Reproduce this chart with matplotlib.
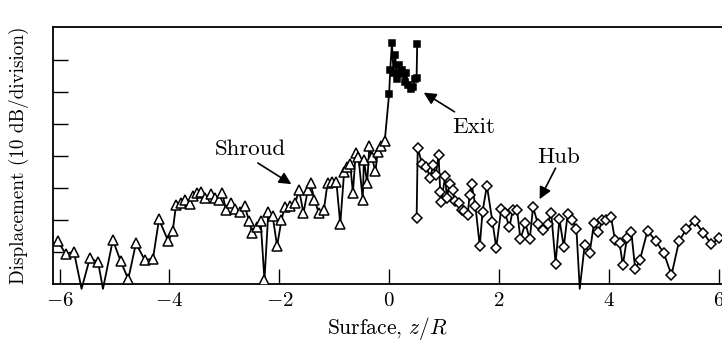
import numpy as np
import matplotlib
matplotlib.use('Agg')
import matplotlib.pyplot as plt

### Datos ###
# Shroud (triangulos)
shroud_z = [-6.03, -5.89, -5.74, -5.60, -5.45, -5.30, -5.21, -5.03, -4.89, -4.75,
            -4.61, -4.45, -4.30, -4.19, -4.02, -3.94, -3.88, -3.79, -3.71, -3.62,
            -3.57, -3.49, -3.42, -3.35, -3.25, -3.17, -3.09, -3.04, -2.97, -2.885,
            -2.81, -2.72, -2.63, -2.55, -2.49, -2.41, -2.34, -2.27, -2.20, -2.12,
            -2.04, -1.96, -1.90, -1.81, -1.71, -1.64, -1.56, -1.48, -1.43, -1.36,
            -1.28, -1.19, -1.12, -1.04, -0.96, -0.89, -0.82, -0.76, -0.71, -0.66,
            -0.61, -0.56, -0.48, -0.46, -0.40, -0.36, -0.32, -0.25, -0.21, -0.15,
            -0.08]
shroud_y = [1.34, 0.94, 1.01, -0.15, 0.80, 0.69, -0.15, 1.375, 0.72, 0.15,
            1.27, 0.75, 0.79, 2.02, 1.33, 1.66, 2.47, 2.52, 2.64, 2.49,
            2.76, 2.83, 2.88, 2.70, 2.82, 2.70, 2.61, 2.85, 2.31, 2.54,
            2.35, 2.24, 2.44, 1.96, 1.59, 1.79, 1.97, 0.12, 2.25, 2.11,
            1.19, 2.00, 2.42, 2.44, 2.53, 2.94, 2.22, 2.94, 3.15, 2.63,
            2.22, 2.30, 3.17, 3.20, 3.18, 1.87, 3.49, 3.66, 3.76, 2.85,
            4.08, 3.98, 2.63, 3.88, 3.15, 4.30, 3.98, 3.53, 4.11, 4.30,
            4.47]

# Exit (cuadrados)
exit_z = [0.00, 0.02, 0.05, 0.08, 0.11, 0.14, 0.18, 0.21, 0.24, 0.28,
          0.31, 0.35, 0.39, 0.43, 0.47, 0.50, 0.51]
exit_y = [5.95, 6.70, 7.52, 6.60, 7.15, 6.40, 6.85, 6.55, 6.70, 6.30,
          6.58, 6.22, 6.10, 6.15, 6.40, 6.45, 7.50]

# Hub (rombos)
hub_z = [0.50, 0.52, 0.60, 0.68, 0.75, 0.80, 0.85, 0.90, 0.93, 0.95,
         1.02, 1.05, 1.10, 1.16, 1.19, 1.27, 1.33, 1.37, 1.43, 1.465,
         1.50, 1.57, 1.65, 1.70, 1.78, 1.88, 1.95, 2.04, 2.11, 2.19,
         2.25, 2.33, 2.39, 2.48, 2.56, 2.62, 2.71, 2.80, 2.885, 2.95,
         3.03, 3.10, 3.18, 3.25, 3.33, 3.41, 3.47, 3.56, 3.65, 3.73,
         3.81, 3.88, 3.95, 4.04, 4.11, 4.195, 4.255, 4.33, 4.41, 4.48,
         4.565, 4.705, 4.85, 5.00, 5.14, 5.28, 5.41, 5.56, 5.72, 5.865,
         6.01]
hub_y = [2.07, 4.26, 3.74, 3.65, 3.30, 3.72, 3.41, 4.03, 2.88, 2.57,
         3.38, 2.70, 3.12, 2.94, 2.59, 2.54, 2.31, 2.28, 2.16, 2.78,
         3.12, 2.44, 1.19, 2.26, 3.07, 1.95, 1.14, 2.33, 2.21, 1.77,
         2.32, 2.30, 1.40, 1.90, 1.40, 2.40, 1.875, 1.69, 1.875, 2.23,
         0.64, 2.02, 1.16, 2.19, 2.01, 1.71, -0.15, 1.22, 0.97, 1.90,
         1.63, 1.99, 2.00, 2.09, 1.39, 1.27, 0.59, 1.44, 1.61, 0.46,
         0.75, 1.67, 1.35, 0.97, 0.28, 1.35, 1.71, 1.975, 1.60, 1.25,
         1.43]

xticks = [-6, -4, -2, 0, 2, 4, 6]
yticks = [1, 2, 3, 4, 5, 6, 7]

### Estilo ###
plt.rcParams['font.family'] = 'serif'
plt.rcParams['font.serif'] = ['cmr10', 'DejaVu Serif']
plt.rcParams['mathtext.fontset'] = 'cm'
plt.rcParams['axes.formatter.use_mathtext'] = True
plt.rcParams['axes.unicode_minus'] = True

fig = plt.figure(figsize=(7.22, 3.43), dpi=100)
ax = fig.add_axes([53/722, 59/343, 669/722, 257/343])

lw = 1.3
mew = 1.1

def serie(z, y, marker, ms, face):
    z = np.array(z)
    y = np.array(y)
    # la linea sale un poco por debajo del eje, los marcadores no
    ax.plot(z, y, color='black', lw=lw, clip_on=False, zorder=2)
    vis = y >= 0
    ax.plot(z[vis], y[vis], ls='none', marker=marker, ms=ms, mfc=face,
            mec='black', mew=mew, zorder=3)

# union shroud -> exit
ax.plot([shroud_z[-1], exit_z[0]], [shroud_y[-1], exit_y[0]], color='black', lw=lw, zorder=2)

serie(shroud_z, shroud_y, '^', 6.5, 'white')
serie(exit_z, exit_y, 's', 5, 'black')
serie(hub_z, hub_y, 'D', 4.6, 'white')

### Ejes ###
ax.set_xlim(-6.12, 6.06)
ax.set_ylim(0, 8.03)
ax.set_xticks(xticks)
ax.set_yticks(yticks)
ax.set_yticklabels([])
ax.tick_params(direction='in', length=11, width=1.0, labelsize=15, pad=6)
ax.spines['right'].set_visible(False)
for s in ['left', 'bottom', 'top']:
    ax.spines[s].set_linewidth(1.3)

ax.set_xlabel('Surface, $z/R$', fontsize=15.5, labelpad=3)
ax.set_ylabel('Displacement (10 dB/division)', fontsize=13.8, labelpad=11)

### Anotaciones ###
flecha = dict(arrowstyle='-|>', color='black', lw=1.2, mutation_scale=18, shrinkA=0, shrinkB=0)
ax.text(-3.18, 4.03, 'Shroud', fontsize=16.5, ha='left', va='baseline')
ax.annotate('', xy=(-1.78, 3.12), xytext=(-2.39, 3.78), arrowprops=flecha)
ax.text(1.156, 4.72, 'Exit', fontsize=16.5, ha='left', va='baseline')
ax.annotate('', xy=(0.63, 5.98), xytext=(1.19, 5.38), arrowprops=flecha)
ax.text(2.70, 3.79, 'Hub', fontsize=16.5, ha='left', va='baseline')
ax.annotate('', xy=(2.74, 2.65), xytext=(3.03, 3.62), arrowprops=flecha)

fig.savefig('out.png', dpi=100)
